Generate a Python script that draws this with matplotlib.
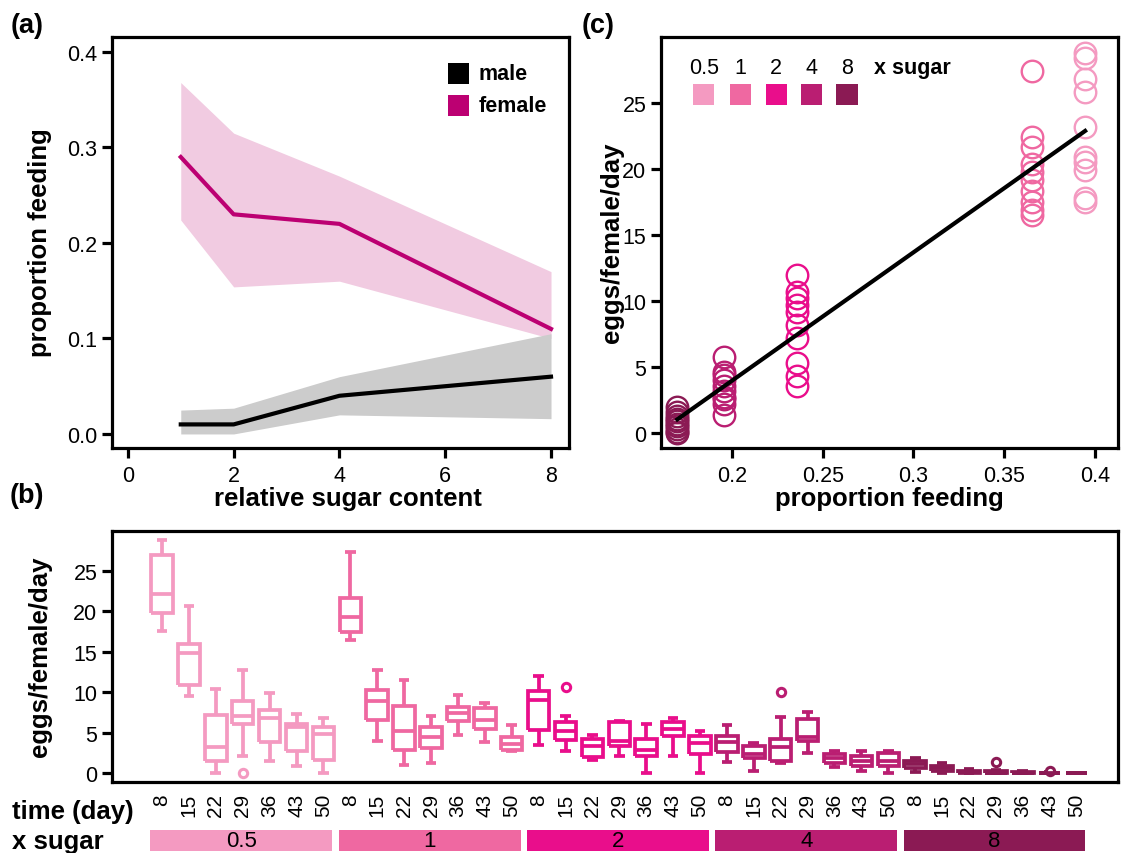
import numpy as np
import matplotlib
matplotlib.use("Agg")
import matplotlib.pyplot as plt
from matplotlib.patches import Rectangle

plt.rcParams['font.family'] = ['Liberation Sans', 'DejaVu Sans']

W, H = 1124, 854

# ---- panel (a): proportion feeding vs relative sugar content
sugar_rel = [1, 2, 4, 8]
female_mean = [0.29, 0.23, 0.22, 0.11]
female_lo = [0.224, 0.154, 0.16, 0.10]
female_hi = [0.368, 0.315, 0.27, 0.17]
male_mean = [0.01, 0.01, 0.04, 0.06]
male_lo = [0.0, 0.0, 0.02, 0.016]
male_hi = [0.025, 0.027, 0.06, 0.105]

# ---- shared sugar groups
sugar_labels = ['0.5', '1', '2', '4', '8']
sugar_colors = ['#F49AC1', '#EF68A1', '#E90E8B', '#BA1E72', '#8B1A54']
days = [8, 15, 22, 29, 36, 43, 50]

# ---- panel (b): (whisker low, q1, median, q3, whisker high) per day
box_05 = [(17.6, 19.8, 22.1, 27.0, 28.8), (9.5, 10.9, 14.9, 16.0, 20.7),
          (0.0, 1.5, 3.2, 7.2, 10.35), (2.1, 6.1, 7.1, 8.9, 12.8),
          (1.5, 3.8, 6.85, 7.8, 9.9), (0.9, 2.7, 5.7, 6.1, 7.3),
          (0.0, 1.6, 4.8, 5.7, 6.8)]
box_1 = [(16.4, 17.5, 19.3, 21.7, 27.4), (4.0, 6.6, 8.9, 10.3, 12.8),
         (0.95, 2.9, 5.2, 8.3, 11.5), (1.2, 3.1, 4.4, 5.7, 7.1),
         (4.7, 6.5, 7.4, 8.2, 9.6), (3.9, 5.4, 6.6, 8.0, 8.7),
         (2.7, 2.9, 3.6, 4.5, 6.0)]
box_2 = [(3.5, 5.3, 9.0, 10.1, 12.0), (2.7, 4.1, 5.2, 6.3, 7.1),
         (1.6, 2.0, 3.3, 4.2, 4.7), (2.1, 3.4, 4.0, 6.3, 6.4),
         (0.0, 2.1, 2.8, 4.2, 6.1), (2.1, 4.6, 5.5, 6.3, 6.8),
         (0.0, 2.35, 3.7, 4.6, 5.2)]
box_4 = [(1.4, 2.6, 3.9, 4.6, 5.9), (0.2, 1.9, 2.35, 3.4, 3.7),
         (1.3, 1.5, 3.2, 4.2, 6.9), (2.5, 4.0, 4.4, 6.7, 7.6),
         (0.8, 1.3, 1.8, 2.3, 2.7), (0.3, 0.9, 1.5, 2.1, 2.7),
         (0.0, 0.9, 1.5, 2.5, 2.7)]
box_8 = [(0.1, 0.6, 1.1, 1.5, 1.9), (0.0, 0.2, 0.6, 0.9, 1.3),
         (0.0, 0.0, 0.1, 0.3, 0.5), (0.0, 0.0, 0.05, 0.2, 0.4),
         (0.0, 0.0, 0.0, 0.1, 0.2), (0.0, 0.0, 0.0, 0.05, 0.1),
         (0.0, 0.0, 0.0, 0.0, 0.0)]
fliers_05 = [[], [], [], [0.0], [], [], []]
fliers_1 = [[], [], [], [], [], [], []]
fliers_2 = [[], [10.6], [], [], [], [], []]
fliers_4 = [[], [], [10.0], [], [], [], []]
fliers_8 = [[], [], [], [1.4], [], [0.2], []]

# ---- panel (c): day-8 eggs vs proportion feeding
feed_prop = [0.3945, 0.365, 0.2357, 0.1956, 0.170]
eggs_05 = [28.8, 28.4, 26.8, 25.8, 23.2, 20.9, 20.5, 19.9, 17.8, 17.5]
eggs_1 = [27.4, 22.4, 21.7, 20.4, 19.8, 19.2, 18.3, 17.5, 16.9, 16.5]
eggs_2 = [12.0, 10.7, 10.2, 9.7, 9.2, 8.2, 7.2, 5.3, 4.3, 3.6]
eggs_4 = [5.8, 4.6, 4.4, 4.0, 3.6, 3.2, 2.7, 2.6, 2.2, 1.4]
eggs_8 = [2.0, 1.6, 1.3, 1.1, 0.9, 0.7, 0.5, 0.3, 0.1, 0.0]
fit_slope = 97.3
fit_intercept = -15.5


def px_axes(left, top, right, bottom):
    return [left / W, 1 - bottom / H, (right - left) / W, (bottom - top) / H]


def style_axes(ax):
    for s in ax.spines.values():
        s.set_linewidth(2.3)
    ax.tick_params(direction='out', length=7, width=2.3, labelsize=15.5, pad=3.5)


fig = plt.figure(figsize=(W / 100, H / 100), dpi=100)

# ================= (a)
axa = fig.add_axes(px_axes(112, 38, 569, 449))
axa.fill_between(sugar_rel, female_lo, female_hi, color='#F1CBE1', lw=0)
axa.fill_between(sugar_rel, male_lo, male_hi, color='#CCCCCC', lw=0)
axa.plot(sugar_rel, female_mean, color='#BC0072', lw=3)
axa.plot(sugar_rel, male_mean, color='black', lw=3)
axa.set_xlim(-0.30, 8.34)
axa.set_ylim(-0.0147, 0.4157)
axa.set_xticks([0, 2, 4, 6, 8])
axa.set_yticks([0, 0.1, 0.2, 0.3, 0.4])
axa.set_yticklabels(['0.0', '0.1', '0.2', '0.3', '0.4'])
style_axes(axa)
axa.tick_params(axis='x', pad=5)
for yy, col, lab in [(0.912, 'black', 'male'), (0.833, '#BC0072', 'female')]:
    axa.add_patch(Rectangle((0.736, yy - 0.0255), 0.046, 0.051, transform=axa.transAxes,
                            color=col, lw=0))
    axa.text(0.802, yy, lab, transform=axa.transAxes, fontsize=15.5,
             fontweight='bold', va='center', ha='left')

# ================= (c)
axc = fig.add_axes(px_axes(661, 38, 1118, 449))
for xv, ys, col in zip(feed_prop, [eggs_05, eggs_1, eggs_2, eggs_4, eggs_8], sugar_colors):
    axc.plot([xv] * len(ys), ys, ls='none', marker='o', ms=15.5, mfc='none',
             mec=col, mew=1.7)
xfit = np.array([min(feed_prop), max(feed_prop)])
axc.plot(xfit, fit_slope * xfit + fit_intercept, color='black', lw=3)
axc.set_xlim(0.161, 0.4126)
axc.set_ylim(-1.13, 30.0)
axc.set_xticks([0.2, 0.25, 0.3, 0.35, 0.4])
axc.set_xticklabels(['0.2', '0.25', '0.3', '0.35', '0.4'])
axc.set_yticks([0, 5, 10, 15, 20, 25])
style_axes(axc)
axc.tick_params(axis='x', pad=5)
leg_x = [0.094, 0.173, 0.252, 0.330, 0.407]
for lx, lab, col in zip(leg_x, sugar_labels, sugar_colors):
    axc.text(lx, 0.927, lab, transform=axc.transAxes, fontsize=15.5,
             ha='center', va='center')
    axc.add_patch(Rectangle((lx - 0.023, 0.859 - 0.0255), 0.046, 0.051,
                            transform=axc.transAxes, color=col, lw=0))
axc.text(0.551, 0.927, 'x sugar', transform=axc.transAxes, fontsize=15.5,
         fontweight='bold', ha='center', va='center')

# ================= (b)
axb = fig.add_axes(px_axes(112, 532, 1118, 783))
all_boxes = [box_05, box_1, box_2, box_4, box_8]
all_fliers = [fliers_05, fliers_1, fliers_2, fliers_4, fliers_8]
stats, colors = [], []
for g, (boxes, fl) in enumerate(zip(all_boxes, all_fliers)):
    for d in range(len(days)):
        lo, q1, med, q3, hi = boxes[d]
        stats.append(dict(whislo=lo, q1=q1, med=med, q3=q3, whishi=hi, fliers=fl[d]))
        colors.append(sugar_colors[g])
positions = np.arange(len(stats))
bp = axb.bxp(stats, positions=positions, widths=0.8, showfliers=True,
             manage_ticks=False)
for i, c in enumerate(colors):
    parts = [bp['boxes'][i], bp['medians'][i], bp['whiskers'][2 * i],
             bp['whiskers'][2 * i + 1], bp['caps'][2 * i], bp['caps'][2 * i + 1]]
    for p in parts:
        p.set_color(c)
        p.set_linewidth(2.7)
        p.set_solid_capstyle('butt')
        p.set_solid_joinstyle('miter')
    bp['fliers'][i].set(marker='o', markersize=6, mfc='white', mec=c, mew=2.2)
axb.set_xlim(-1.86, 35.54)
axb.set_ylim(-1.11, 29.95)
axb.set_yticks([0, 5, 10, 15, 20, 25])
axb.set_xticks(positions)
axb.set_xticklabels([str(d) for d in days] * len(sugar_labels), rotation=90)
style_axes(axb)
axb.tick_params(axis='x', length=0, pad=8, labelsize=15)

# sugar strip under (b)
axs = fig.add_axes(px_axes(112, 831, 1118, 852))
axs.set_xlim(axb.get_xlim())
axs.set_ylim(0, 1)
axs.axis('off')
for g, (lab, col) in enumerate(zip(sugar_labels, sugar_colors)):
    x0 = g * len(days) - 0.43
    axs.add_patch(Rectangle((x0, 0), 6.76, 1, color=col, lw=0))
    axs.text(x0 + 3.38, 0.5, lab, fontsize=16, ha='center', va='center')

# ================= labels
def ftext(x, y, s, **kw):
    fig.text(x / W, 1 - y / H, s, **kw)

bold = dict(fontsize=18.5, fontweight='bold', ha='center', va='center')
ftext(348, 499, 'relative sugar content', **bold)
ftext(40, 243, 'proportion feeding', rotation=90, **bold)
ftext(889, 499, 'proportion feeding', **bold)
ftext(612, 243, 'eggs/female/day', rotation=90, **bold)
ftext(40, 657, 'eggs/female/day', rotation=90, **bold)
ftext(12, 812, 'time (day)', fontsize=18.5, fontweight='bold', ha='left', va='center')
ftext(12, 842, 'x sugar', fontsize=18.5, fontweight='bold', ha='left', va='center')
ftext(27, 26, '(a)', fontsize=19.5, fontweight='bold', ha='center', va='center')
ftext(27, 496, '(b)', fontsize=19.5, fontweight='bold', ha='center', va='center')
ftext(598, 26, '(c)', fontsize=19.5, fontweight='bold', ha='center', va='center')

fig.savefig('out.png', dpi=100)
